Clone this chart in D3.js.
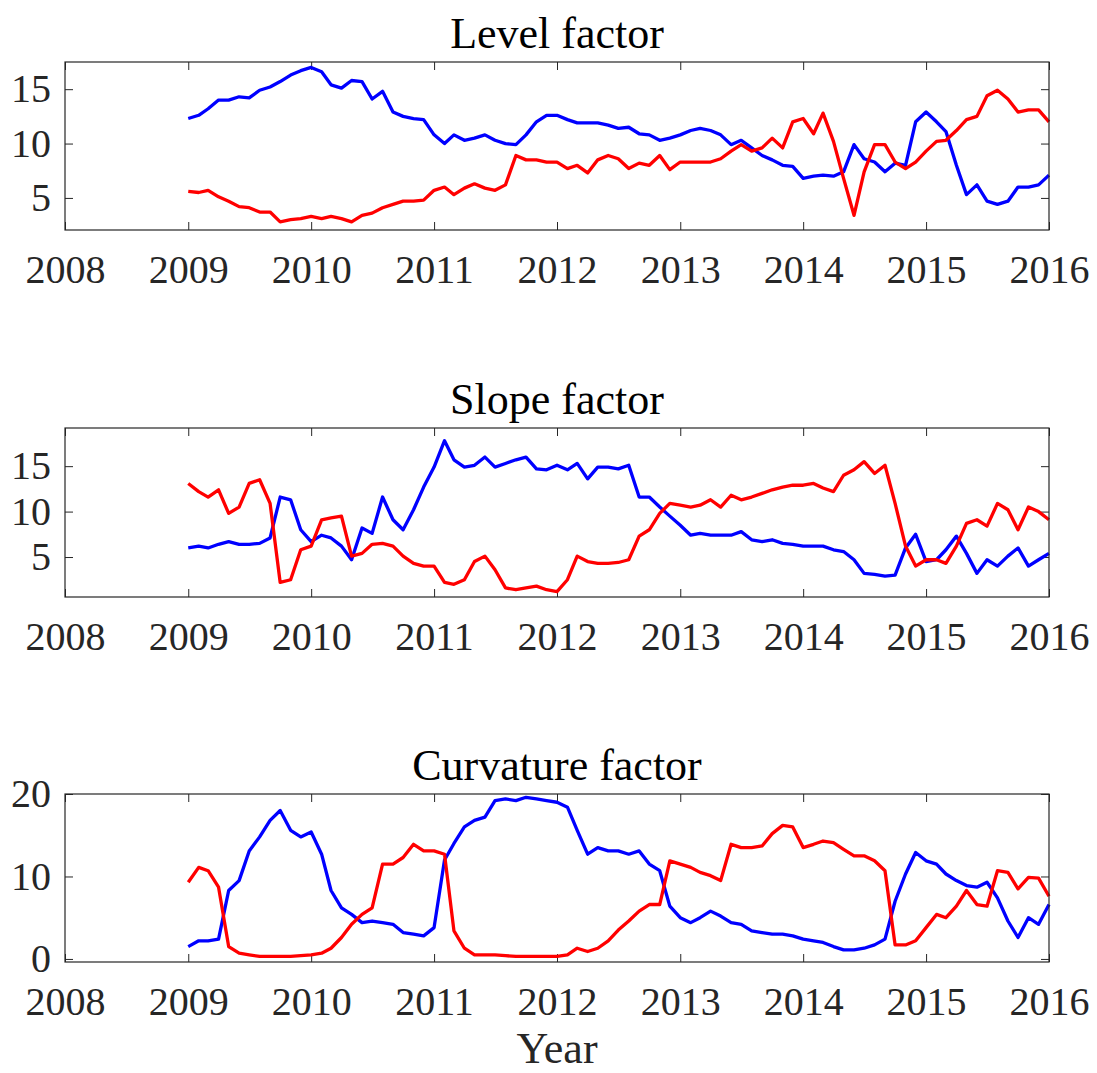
<!DOCTYPE html>
<html>
<head>
<meta charset="utf-8">
<script src="https://cdn.jsdelivr.net/npm/d3@7"></script>
<style>
  body { margin: 0; background: #fff; }
  svg { display: block; }
  svg text { font-family: "Liberation Serif", "Times New Roman", serif; }
</style>
</head>
<body>
<div class="chart"></div>
<script>
// monthly samples, Jan 2009 .. Jan 2016
const months = d3.timeMonths(new Date(2009, 0, 1), new Date(2016, 0, 2));
const yearTicks = [2008, 2009, 2010, 2011, 2012, 2013, 2014, 2015, 2016];

const levelBlue = [
  12.3, 12.6, 13.2, 14.0, 14.0, 14.3, 14.2, 14.9, 15.2, 15.7, 16.3, 16.7,
  17.0, 16.6, 15.4, 15.1, 15.8, 15.7, 14.1, 14.8, 12.9, 12.5, 12.3, 12.2,
  10.8, 10.0, 10.8, 10.3, 10.5, 10.8, 10.3, 10.0, 9.9, 10.8, 12.0, 12.6,
  12.6, 12.2, 11.9, 11.9, 11.9, 11.7, 11.4, 11.5, 10.9, 10.8, 10.3, 10.5,
  10.8, 11.2, 11.4, 11.2, 10.8, 9.9, 10.3, 9.6, 8.9, 8.5, 8.0, 7.9,
  6.8, 7.0, 7.1, 7.0, 7.4, 9.9, 8.6, 8.3, 7.4, 8.2, 8.0, 12.0,
  12.9, 12.0, 11.1, 8.0, 5.3, 6.2, 4.7, 4.4, 4.7, 6.0, 6.0, 6.2,
  7.1
];
const levelRed = [
  5.6, 5.5, 5.7, 5.1, 4.7, 4.2, 4.1, 3.7, 3.7, 2.8, 3.0, 3.1,
  3.3, 3.1, 3.3, 3.1, 2.8, 3.4, 3.6, 4.1, 4.4, 4.7, 4.7, 4.8,
  5.7, 6.0, 5.3, 5.9, 6.3, 5.9, 5.7, 6.2, 8.9, 8.5, 8.5, 8.3,
  8.3, 7.7, 8.0, 7.3, 8.5, 8.9, 8.6, 7.7, 8.2, 8.0, 8.9, 7.6,
  8.3, 8.3, 8.3, 8.3, 8.6, 9.3, 9.9, 9.3, 9.6, 10.5, 9.6, 12.0,
  12.3, 10.9, 12.8, 10.2, 6.8, 3.4, 7.4, 9.9, 9.9, 8.3, 7.7, 8.3,
  9.3, 10.2, 10.3, 11.2, 12.2, 12.5, 14.4, 14.9, 14.1, 12.9, 13.1, 13.1,
  12.0
];
const slopeBlue = [
  6.0, 6.2, 6.0, 6.4, 6.7, 6.4, 6.4, 6.5, 7.1, 11.6, 11.3, 8.0,
  6.7, 7.4, 7.1, 6.2, 4.7, 8.2, 7.6, 11.6, 9.1, 8.0, 10.2, 12.7,
  14.9, 17.8, 15.7, 14.9, 15.1, 16.0, 14.9, 15.3, 15.7, 16.0, 14.7, 14.6,
  15.1, 14.6, 15.3, 13.6, 14.9, 14.9, 14.7, 15.1, 11.6, 11.6, 10.5, 9.5,
  8.5, 7.4, 7.6, 7.4, 7.4, 7.4, 7.8, 6.9, 6.7, 6.9, 6.5, 6.4,
  6.2, 6.2, 6.2, 5.8, 5.6, 4.7, 3.2, 3.1, 2.9, 3.0, 6.0, 7.5,
  4.5, 4.7, 5.8, 7.3, 5.4, 3.2, 4.7, 4.0, 5.1, 6.0, 4.0, 4.7,
  5.4
];
const slopeRed = [
  13.1, 12.2, 11.6, 12.4, 9.8, 10.5, 13.1, 13.5, 10.9, 2.2, 2.5, 5.8,
  6.2, 9.1, 9.3, 9.5, 5.1, 5.4, 6.4, 6.5, 6.2, 5.1, 4.3, 4.0,
  4.0, 2.2, 2.0, 2.5, 4.5, 5.1, 3.6, 1.6, 1.4, 1.6, 1.8, 1.4,
  1.2, 2.5, 5.1, 4.5, 4.3, 4.3, 4.4, 4.7, 7.3, 8.0, 9.8, 10.9,
  10.7, 10.5, 10.7, 11.3, 10.5, 11.8, 11.3, 11.6, 12.0, 12.4, 12.7, 12.9,
  12.9, 13.1, 12.6, 12.2, 14.0, 14.6, 15.5, 14.2, 15.1, 10.9, 6.2, 4.0,
  4.7, 4.7, 4.3, 6.2, 8.7, 9.1, 8.4, 10.9, 10.2, 8.0, 10.5, 10.0,
  9.1
];
const curvBlue = [
  1.5, 2.2, 2.2, 2.4, 8.3, 9.5, 13.1, 14.8, 16.8, 18.0, 15.6, 14.8,
  15.4, 12.7, 8.3, 6.2, 5.4, 4.4, 4.6, 4.4, 4.2, 3.2, 3.0, 2.8,
  3.8, 12.0, 14.0, 16.0, 16.8, 17.2, 19.2, 19.4, 19.2, 19.6, 19.4, 19.2,
  19.0, 18.4, 15.6, 12.7, 13.5, 13.1, 13.1, 12.7, 13.1, 11.5, 10.7, 6.4,
  5.0, 4.4, 5.0, 5.8, 5.2, 4.4, 4.2, 3.4, 3.2, 3.0, 3.0, 2.8,
  2.4, 2.2, 2.0, 1.5, 1.1, 1.1, 1.3, 1.7, 2.4, 7.0, 10.3, 12.9,
  11.9, 11.5, 10.3, 9.5, 8.9, 8.7, 9.3, 7.4, 4.6, 2.6, 5.0, 4.2,
  6.6
];
const curvRed = [
  9.3, 11.1, 10.7, 8.7, 1.5, 0.7, 0.5, 0.3, 0.3, 0.3, 0.3, 0.4,
  0.5, 0.7, 1.3, 2.6, 4.2, 5.4, 6.2, 11.5, 11.5, 12.3, 13.9, 13.1,
  13.1, 12.7, 3.4, 1.3, 0.5, 0.5, 0.5, 0.4, 0.3, 0.3, 0.3, 0.3,
  0.3, 0.5, 1.3, 0.9, 1.3, 2.2, 3.5, 4.6, 5.8, 6.6, 6.6, 11.9,
  11.5, 11.1, 10.5, 10.1, 9.5, 13.9, 13.5, 13.5, 13.7, 15.2, 16.2, 16.0,
  13.5, 13.9, 14.3, 14.1, 13.3, 12.5, 12.5, 11.9, 10.7, 1.7, 1.7, 2.2,
  3.8, 5.4, 5.0, 6.4, 8.3, 6.6, 6.4, 10.7, 10.5, 8.5, 9.9, 9.8,
  7.6
];

const panels = [
  { title: "Level factor", blue: levelBlue, red: levelRed, top: 62, bottom: 230, domain: [2.05, 17.5], ticks: [5, 10, 15] },
  { title: "Slope factor", blue: slopeBlue, red: slopeRed, top: 428, bottom: 597, domain: [0.6, 19.2], ticks: [5, 10, 15] },
  { title: "Curvature factor", blue: curvBlue, red: curvRed, top: 794, bottom: 962, domain: [-0.37, 20], ticks: [0, 10, 20] }
];

const width = 1097, height = 1073;
const margin = { left: 65, right: 48 };
const axisColor = "#262626";
const font = "Liberation Serif, Times New Roman, serif";

const svg = d3.select(".chart")
  .append("svg")
  .attr("width", width)
  .attr("height", height)
  .attr("font-family", font);

const x = d3.scaleTime()
  .domain([new Date(2008, 0, 1), new Date(2016, 0, 1)])
  .range([margin.left, width - margin.right]);

const yearDates = yearTicks.map(y => new Date(y, 0, 1));

// shared clean-up for the d3 axes: drop default sans font and domain path
const styleAxis = a => {
  a.attr("font-family", null).attr("font-size", null);
  a.select(".domain").remove();
  a.selectAll("line").attr("stroke", axisColor);
  a.selectAll("text").attr("fill", axisColor).attr("font-size", 40);
};

panels.forEach(p => {
  const y = d3.scaleLinear()
    .domain(p.domain)
    .range([p.bottom, p.top]);

  const g = svg.append("g");

  // bottom axis with labels
  g.append("g")
    .attr("transform", `translate(0,${p.bottom})`)
    .call(d3.axisBottom(x).tickValues(yearDates).tickFormat(d3.timeFormat("%Y"))
      .tickSizeInner(-8).tickSizeOuter(0).tickPadding(25))
    .call(styleAxis);

  // top ticks
  g.append("g")
    .attr("transform", `translate(0,${p.top})`)
    .call(d3.axisTop(x).tickValues(yearDates).tickFormat("").tickSizeInner(-8).tickSizeOuter(0))
    .call(styleAxis);

  // left axis with labels
  g.append("g")
    .attr("transform", `translate(${margin.left},0)`)
    .call(d3.axisLeft(y).tickValues(p.ticks).tickSizeInner(-8).tickSizeOuter(0).tickPadding(14))
    .call(styleAxis);

  // right ticks
  g.append("g")
    .attr("transform", `translate(${width - margin.right},0)`)
    .call(d3.axisRight(y).tickValues(p.ticks).tickFormat("").tickSizeInner(-8).tickSizeOuter(0))
    .call(styleAxis);

  const line = d3.line()
    .x((d, i) => x(months[i]))
    .y(d => y(d));

  [["#0000ff", p.blue], ["#ff0000", p.red]].forEach(([c, vals]) => {
    g.append("path")
      .datum(vals)
      .attr("fill", "none")
      .attr("stroke", c)
      .attr("stroke-width", 3.3)
      .attr("stroke-linejoin", "round")
      .attr("d", line);
  });

  // box
  g.append("rect")
    .attr("x", margin.left)
    .attr("y", p.top)
    .attr("width", width - margin.right - margin.left)
    .attr("height", p.bottom - p.top)
    .attr("fill", "none")
    .attr("stroke", axisColor)
    .attr("stroke-width", 1.2);

  g.append("text")
    .attr("x", (margin.left + width - margin.right) / 2)
    .attr("y", p.top - 14)
    .attr("text-anchor", "middle")
    .attr("font-size", 44)
    .attr("fill", "#000")
    .text(p.title);
});

svg.append("text")
  .attr("x", (margin.left + width - margin.right) / 2)
  .attr("y", 1063)
  .attr("text-anchor", "middle")
  .attr("font-size", 44)
  .attr("fill", axisColor)
  .text("Year");
</script>
</body>
</html>
